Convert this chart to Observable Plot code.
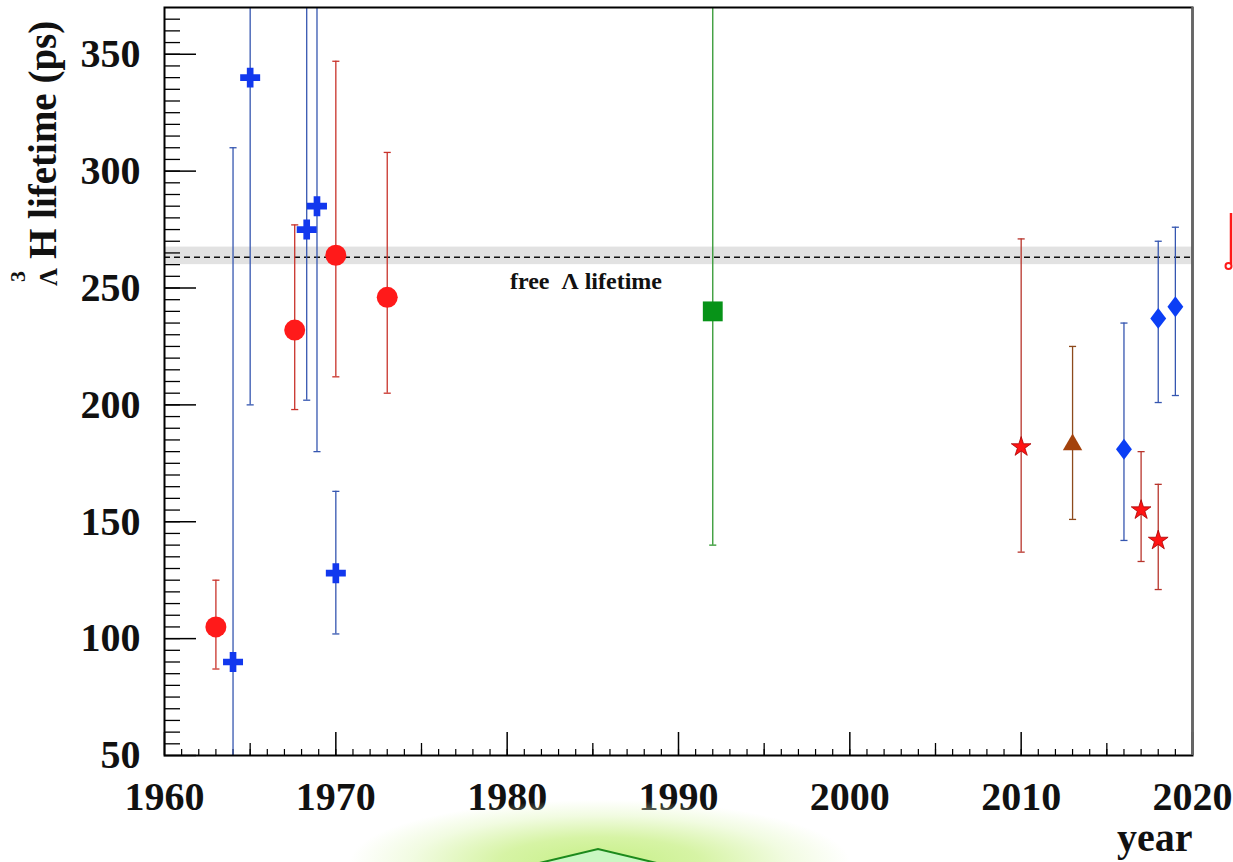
<!DOCTYPE html>
<html>
<head>
<meta charset="utf-8">
<script src="https://cdn.jsdelivr.net/npm/d3@7"></script>
<script src="https://cdn.jsdelivr.net/npm/@observablehq/plot@0.6"></script>
<style>
  html, body { margin: 0; padding: 0; background: #fff; }
  #wrap { position: relative; width: 1233px; height: 862px; overflow: hidden; background: #fff; }
  #wrap svg { display: block; }
  .overlay { position: absolute; pointer-events: none; }
</style>
</head>
<body>
<div id="wrap"></div>
<script>
// Hypertriton lifetime measurements (ps) by year, with asymmetric error bars.

// Emulsion experiments (red circles)
const emulsionYear = [1963, 1967.6, 1970, 1973];
const emulsionTau  = [105, 232, 264, 246];
const emulsionLow  = [87, 198, 212, 205];
const emulsionHigh = [125, 277, 347, 308];

// Helium bubble chamber experiments (blue crosses)
const bubbleYear = [1964, 1965, 1968.3, 1968.9, 1970];
const bubbleTau  = [90, 340, 275, 285, 128];
const bubbleLow  = [40, 200, 202, 180, 102];
const bubbleHigh = [310, 420, 420, 420, 163];

// Counter experiment (green square)
const counterYear = [1992];
const counterTau  = [240];
const counterLow  = [140];
const counterHigh = [420];

// STAR (red stars)
const starYear = [2010, 2017, 2018];
const starTau  = [182, 155, 142];
const starLow  = [137, 133, 121];
const starHigh = [271, 180, 166];

// HypHI (brown triangle)
const hyphiYear = [2013];
const hyphiTau  = [183];
const hyphiLow  = [151];
const hyphiHigh = [225];

// ALICE (blue diamonds)
const aliceYear = [2016, 2018, 2019];
const aliceTau  = [181, 237, 242];
const aliceLow  = [142, 201, 204];
const aliceHigh = [235, 270, 276];

// Free Lambda lifetime and its uncertainty band
const lambdaTau = [263.2];
const lambdaBand = [{low: 260, high: 267.5}];
const lambdaNote = [{year: 1984.6, tau: 253, label: "free  \u039b lifetime"}];

// Axes
const xDomain = [1960, 2020];
const yDomain = [50, 370];
const xLabels = [1960, 1970, 1980, 1990, 2000, 2010, 2020];
const xMidTicks = [1965, 1975, 1985, 1995, 2005, 2015];
const xMinorTicks = d3.range(1961, 2020);
const yLabels = [50, 100, 150, 200, 250, 300, 350];
const yMinorTicks = d3.range(55, 370, 5);

const serif = "'Liberation Serif', 'DejaVu Serif', serif";

function rows(years, tau, low, high, group) {
  return years.map((year, i) => ({year, tau: tau[i], low: low[i], high: high[i], group}));
}

// Custom symbols: error-bar cap and a wider diamond
const capSymbol = {
  draw(ctx, size) { const w = Math.sqrt(size); ctx.moveTo(-w / 2, 0); ctx.lineTo(w / 2, 0); }
};
const diamondSymbol = {
  draw(ctx, size) {
    const h = Math.sqrt(size) / 2, w = h * 0.76;
    ctx.moveTo(0, -h); ctx.lineTo(w, 0); ctx.lineTo(0, h); ctx.lineTo(-w, 0); ctx.closePath();
  }
};

const series = [
  {data: rows(emulsionYear, emulsionTau, emulsionLow, emulsionHigh, "emulsion"),
   bar: "#c8322a", fill: "#ff1a1a", stroke: "none", symbol: "circle", r: 10.5},
  {data: rows(bubbleYear, bubbleTau, bubbleLow, bubbleHigh, "bubble"),
   bar: "#3556b0", fill: "#1238ee", stroke: "none", symbol: "cross", r: 8.4},
  {data: rows(counterYear, counterTau, counterLow, counterHigh, "counter"),
   bar: "#2e962e", fill: "#079318", stroke: "none", symbol: "square", r: 11.2},
  {data: rows(starYear, starTau, starLow, starHigh, "star"),
   bar: "#b8352c", fill: "#ff1414", stroke: "#a80000", symbol: "star", r: 6.2},
  {data: rows(hyphiYear, hyphiTau, hyphiLow, hyphiHigh, "hyphi"),
   bar: "#8d4a1c", fill: "#a3420c", stroke: "none", symbol: "triangle", r: 7.2},
  {data: rows(aliceYear, aliceTau, aliceLow, aliceHigh, "alice"),
   bar: "#3556b0", fill: "#0b3ef5", stroke: "none", symbol: diamondSymbol, r: 11.8}
];

const inDomain = v => v >= yDomain[0] && v <= yDomain[1];
const plotW = 1233 - 164 - 41;
const plotH = 862 - 7 - 107;

const marks = [
  // uncertainty band of the free Lambda lifetime
  Plot.rect(lambdaBand, {x1: () => xDomain[0], x2: () => xDomain[1], y1: "low", y2: "high",
    fill: "#d6d6d6", fillOpacity: 0.7}),
  Plot.ruleY(lambdaTau, {stroke: "#111", strokeWidth: 1.5, strokeDasharray: "6,4"}),
  Plot.text(lambdaNote, {x: "year", y: "tau", text: "label", fontSize: 24, fontWeight: "bold",
    fontFamily: serif, fill: "#111"}),

  // inward-pointing ticks
  Plot.tickY(yLabels, {stroke: "#000", strokeWidth: 1.5, insetRight: plotW - 32}),
  Plot.tickY(yMinorTicks, {stroke: "#000", strokeWidth: 1.3, insetRight: plotW - 16}),
  Plot.tickX(xLabels, {stroke: "#000", strokeWidth: 1.5, insetTop: plotH - 23}),
  Plot.tickX(xMidTicks, {stroke: "#000", strokeWidth: 1.3, insetTop: plotH - 12}),
  Plot.tickX(xMinorTicks, {stroke: "#000", strokeWidth: 1.2, insetTop: plotH - 6}),
];

for (const s of series) {
  marks.push(Plot.ruleX(s.data, {x: "year", y1: "low", y2: "high", stroke: s.bar, strokeWidth: 1.3, clip: true}));
  marks.push(Plot.dot(s.data.filter(d => inDomain(d.high)), {x: "year", y: "high", symbol: capSymbol, r: 4,
    fill: "none", stroke: s.bar, strokeWidth: 1.3}));
  marks.push(Plot.dot(s.data.filter(d => inDomain(d.low)), {x: "year", y: "low", symbol: capSymbol, r: 4,
    fill: "none", stroke: s.bar, strokeWidth: 1.3}));
}
for (const s of series) {
  marks.push(Plot.dot(s.data, {x: "year", y: "tau", symbol: s.symbol, r: s.r, fill: s.fill,
    stroke: s.stroke, strokeWidth: 0.8}));
}

marks.push(
  Plot.frame({stroke: "#000", strokeWidth: 2}),
  Plot.ruleX([xDomain[1]], {stroke: "#666", strokeWidth: 2.5}),
  Plot.axisY({ticks: yLabels, tickSize: 0, tickPadding: 24, fontSize: 40, fontWeight: "bold",
    fontFamily: serif, label: null, tickFormat: d => String(d)}),
  Plot.axisX({ticks: xLabels, tickSize: 0, tickPadding: 26, fontSize: 40, fontWeight: "bold",
    fontFamily: serif, label: null, tickFormat: d => String(d)}),
  Plot.text(["year"], {text: d => d, frameAnchor: "bottom-right", dx: 0, dy: 95, textAnchor: "end",
    fontSize: 40, fontWeight: "bold", fontFamily: serif, fill: "#111"})
);

const chart = Plot.plot({
  width: 1233,
  height: 862,
  marginLeft: 164,
  marginRight: 41,
  marginTop: 7,
  marginBottom: 107,
  x: {domain: xDomain},
  y: {domain: yDomain},
  style: {fontFamily: serif, background: "transparent", overflow: "visible", color: "#111"},
  marks
});

// y-axis title:  ³_Λ H lifetime (ps), reading upward
const svg = d3.select(chart);
const title = svg.append("g").attr("transform", "translate(56,287) rotate(-90)")
  .append("text")
  .attr("text-anchor", "start")
  .attr("font-family", serif).attr("font-weight", "bold").attr("fill", "#111");
title.append("tspan").attr("x", 5).attr("y", -31).attr("font-size", 22).text("3");
title.append("tspan").attr("x", 1).attr("y", 1).attr("font-size", 25).text("\u039b");
title.append("tspan").attr("x", 28).attr("y", 0).attr("font-size", 39).text("H lifetime (ps)");

const wrap = document.getElementById("wrap");
wrap.appendChild(chart);

// glowing green tab at the bottom edge and a clipped red glyph at the right edge
const glow = document.createElement("div");
glow.className = "overlay";
glow.style.cssText = "left:350px;top:800px;width:500px;height:62px;" +
  "background:radial-gradient(ellipse 250px 62px at 50% 100%, rgba(198,240,135,1) 0%, rgba(212,243,160,0.95) 40%, rgba(232,249,205,0.6) 75%, rgba(255,255,255,0) 100%);";
wrap.appendChild(glow);

const ns = "http://www.w3.org/2000/svg";
const deco = document.createElementNS(ns, "svg");
deco.setAttribute("class", "overlay");
deco.setAttribute("width", 1233);
deco.setAttribute("height", 862);
deco.style.left = "0px";
deco.style.top = "0px";
deco.innerHTML =
  '<polygon points="510,870 598,849 686,870" fill="#c9f7c2" stroke="#1c8a1c" stroke-width="2"/>' +
  '<line x1="1231" y1="213" x2="1231" y2="264" stroke="#ff1a1a" stroke-width="2.5"/>' +
  '<circle cx="1228.5" cy="266" r="3" fill="#fff" stroke="#ff1a1a" stroke-width="2"/>';
wrap.appendChild(deco);
</script>
</body>
</html>
